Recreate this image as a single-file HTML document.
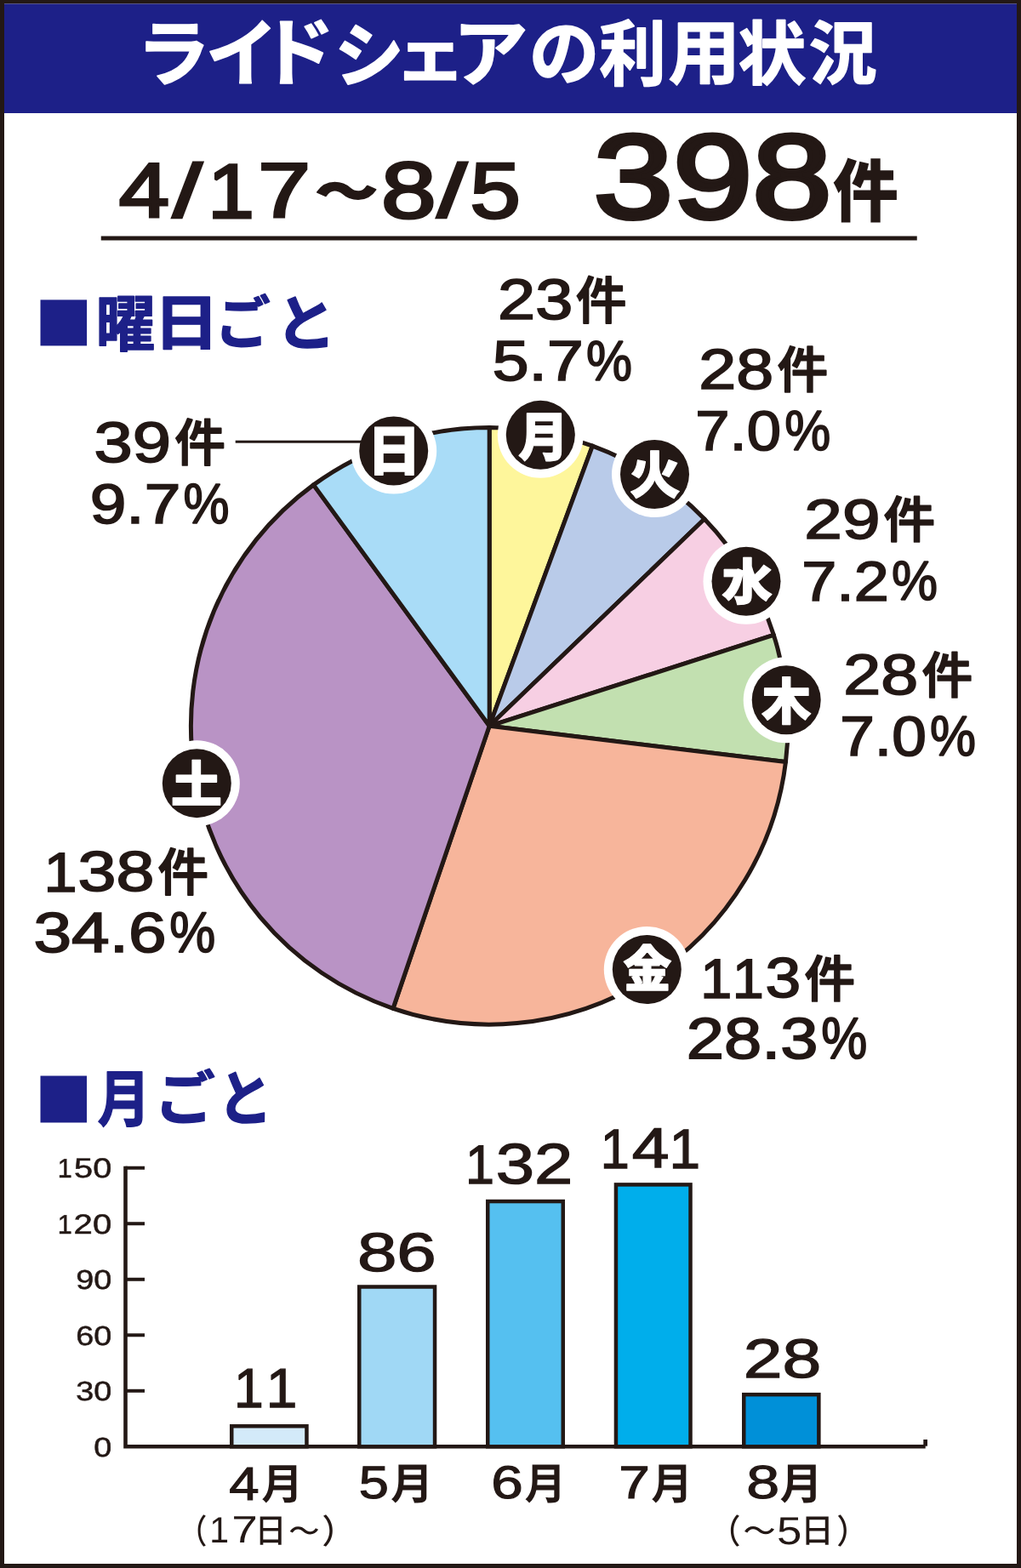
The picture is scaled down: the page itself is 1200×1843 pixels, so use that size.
<!DOCTYPE html>
<html lang="ja"><head><meta charset="utf-8"><title>ライドシェアの利用状況</title>
<style>html,body{margin:0;padding:0;background:#fff}body{width:1200px;height:1843px;overflow:hidden;font-family:"Liberation Sans","Noto Sans CJK JP",sans-serif}svg{display:block}</style>
</head><body>
<svg width="1200" height="1843" viewBox="0 0 1200 1843" font-family="'Liberation Sans', 'Noto Sans CJK JP', sans-serif" style="font-kerning:none;will-change:transform;text-rendering:geometricPrecision"><rect x="0" y="0" width="1200" height="1843" fill="#231815"/>
<rect x="5" y="4.5" width="1190" height="1833.5" fill="#fff"/>
<rect x="5" y="4.5" width="1190" height="128.5" fill="#1d2088"/>
<g aria-label="ライドシェアの利用状況" fill="#fff" stroke="#fff" stroke-linejoin="round" font-weight="bold" font-size="100"><text transform="matrix(0.8622 0 0 0.8533 160.755 94.001)" stroke-width="1.87">ラ</text><text transform="matrix(0.8507 0 0 0.8585 241.776 94.423)" stroke-width="1.87">イ</text><text transform="matrix(0.8817 0 0 0.8711 305.479 92.898)" stroke-width="1.83">ド</text><text transform="matrix(0.8213 0 0 0.8272 392.815 95.064)" stroke-width="1.94">シ</text><text transform="matrix(0.8401 0 0 0.7627 463.534 92.141)" stroke-width="2">ェ</text><text transform="matrix(0.8812 0 0 0.8663 532.542 93.949)" stroke-width="1.83">ア</text><text transform="matrix(0.8268 0 0 0.8466 621.759 93.221)" stroke-width="1.91">の</text><text transform="matrix(0.7872 0 0 0.8406 704.147 94.218)" stroke-width="1.97">利</text><text transform="matrix(0.8441 0 0 0.828 785.558 92.334)" stroke-width="1.91">用</text><text transform="matrix(0.7992 0 0 0.8207 867.562 93.145)" stroke-width="1.98">状</text><text transform="matrix(0.7988 0 0 0.8074 950.733 92.353)" stroke-width="1.99">況</text></g>
<text transform="matrix(1.06524 0 0 0.90929 139.766 254.704)" font-size="100" fill="#231815" stroke="#231815" stroke-width="3.4" stroke-miterlimit="2">4</text><text transform="matrix(1.23785 0 0 0.88498 202.904 255.131)" font-size="100" fill="#231815" stroke="#231815" stroke-width="3.4" stroke-miterlimit="2">/</text><text transform="matrix(1.11034 0 0 0.90929 303.195 254.704)" font-size="100" fill="#231815" stroke="#231815" stroke-width="3.4" stroke-miterlimit="2">7</text>
<text transform="matrix(0.7344 0 0 0.5945 370.43 246.841)" font-size="100" font-weight="900" fill="#231815" stroke="#231815" stroke-width="3.01" stroke-linejoin="round">～</text>
<text transform="matrix(1.16247 0 0 0.9353 447.924 255.897)" font-size="100" fill="#231815" stroke="#231815" stroke-width="3.4" stroke-miterlimit="2">8</text><text transform="matrix(1.25067 0 0 0.88498 513.826 255.131)" font-size="100" fill="#231815" stroke="#231815" stroke-width="3.4" stroke-miterlimit="2">/</text><text transform="matrix(1.06667 0 0 0.92654 552.542 255.92)" font-size="100" fill="#231815" stroke="#231815" stroke-width="3.4" stroke-miterlimit="2">5</text>
<text transform="matrix(1.6764 0 0 1.40079 697.8 256.271)" font-size="100" fill="#231815" stroke="#231815" stroke-width="3.8" stroke-miterlimit="2">398</text>
<text transform="matrix(0.7715 0 0 0.8042 978.851 254.44)" font-size="100" font-weight="900" fill="#231815">件</text>
<rect x="118.75" y="277.5" width="959" height="5" fill="#231815"/>
<text transform="matrix(0.981 0 0 0.905 244.2 255.9)" font-size="100" fill="#231815" stroke="#231815" stroke-width="3.4" stroke-miterlimit="2">1</text>
<rect x="47.5" y="352.4" width="54.6" height="54" fill="#1d2088"/>
<g aria-label="曜日ごと" fill="#1d2088" stroke="#1d2088" stroke-linejoin="round" font-weight="bold" font-size="100"><text transform="matrix(0.6996 0 0 0.7228 112.583 406.539)" stroke-width="1.97">曜</text><text transform="matrix(0.7751 0 0 0.7105 180.264 405.258)" stroke-width="1.88">日</text><text transform="matrix(0.6503 0 0 0.6785 252.811 404.386)" stroke-width="2.11">ご</text><text transform="matrix(0.7147 0 0 0.7155 323.478 406.223)" stroke-width="1.96">と</text></g>
<rect x="47.5" y="1264.5" width="54.5" height="55" fill="#1d2088"/>
<g aria-label="月ごと" fill="#1d2088" stroke="#1d2088" stroke-linejoin="round" font-weight="bold" font-size="100"><text transform="matrix(0.6232 0 0 0.727 114.391 1317.757)" stroke-width="2.07">月</text><text transform="matrix(0.7146 0 0 0.6921 181.481 1315.563)" stroke-width="1.99">ご</text><text transform="matrix(0.6478 0 0 0.7125 255.418 1317.486)" stroke-width="2.06">と</text></g>
<g stroke="#231815" stroke-width="5" stroke-linejoin="round"><path d="M575.2 853.3L575.2 502.5A350.8 350.8 0 0 1 696.331 524.077Z" fill="#fef69b"/><path d="M575.2 853.3L696.331 524.077A350.8 350.8 0 0 1 827.969 610.055Z" fill="#b9cbe9"/><path d="M575.2 853.3L827.969 610.055A350.8 350.8 0 0 1 909.3 746.354Z" fill="#f7cfe3"/><path d="M575.2 853.3L909.3 746.354A350.8 350.8 0 0 1 923.459 895.444Z" fill="#c2e0b0"/><path d="M575.2 853.3L923.459 895.444A350.8 350.8 0 0 1 461.975 1185.325Z" fill="#f7b59b"/><path d="M575.2 853.3L461.975 1185.325A350.8 350.8 0 0 1 368.51 569.857Z" fill="#b993c5"/><path d="M575.2 853.3L368.51 569.857A350.8 350.8 0 0 1 575.2 502.5Z" fill="#a9dcf7"/></g>
<circle cx="462.7" cy="530" r="50.5" fill="#fff"/>
<rect x="276.7" y="517.7" width="150" height="3" fill="#231815"/>
<circle cx="462.7" cy="530" r="40.5" fill="#231815"/>
<text transform="matrix(0.6302 0 0 0.6361 431.714 553.421)" font-size="100" font-weight="900" fill="#fff" stroke="#fff" stroke-width="1.9" stroke-linejoin="round">日</text>
<circle cx="635.3" cy="511.3" r="50.5" fill="#fff"/>
<circle cx="635.3" cy="511.3" r="40.5" fill="#231815"/>
<text transform="matrix(0.5928 0 0 0.6192 608.892 535.518)" font-size="100" font-weight="900" fill="#fff" stroke="#fff" stroke-width="1.98" stroke-linejoin="round">月</text>
<circle cx="769.5" cy="557.5" r="50.5" fill="#fff"/>
<circle cx="769.5" cy="557.5" r="40.5" fill="#231815"/>
<text transform="matrix(0.6011 0 0 0.5968 739.857 579.79)" font-size="100" font-weight="900" fill="#fff" stroke="#fff" stroke-width="2" stroke-linejoin="round">火</text>
<circle cx="877" cy="683.3" r="50.5" fill="#fff"/>
<circle cx="877" cy="683.3" r="40.5" fill="#231815"/>
<text transform="matrix(0.5965 0 0 0.5815 848.205 705.318)" font-size="100" font-weight="900" fill="#fff" stroke="#fff" stroke-width="2.04" stroke-linejoin="round">水</text>
<circle cx="924.2" cy="822.8" r="50.5" fill="#fff"/>
<circle cx="924.2" cy="822.8" r="40.5" fill="#231815"/>
<text transform="matrix(0.5803 0 0 0.5895 895.136 845.8)" font-size="100" font-weight="900" fill="#fff" stroke="#fff" stroke-width="2.05" stroke-linejoin="round">木</text>
<circle cx="760.3" cy="1139.5" r="50.5" fill="#fff"/>
<circle cx="760.3" cy="1139.5" r="40.5" fill="#231815"/>
<text transform="matrix(0.567 0 0 0.5841 732.463 1159.97)" font-size="100" font-weight="900" fill="#fff" stroke="#fff" stroke-width="2.09" stroke-linejoin="round">金</text>
<circle cx="231.3" cy="920.7" r="50.5" fill="#fff"/>
<circle cx="231.3" cy="920.7" r="40.5" fill="#231815"/>
<text transform="matrix(0.6028 0 0 0.5815 200.768 942.96)" font-size="100" font-weight="900" fill="#fff" stroke="#fff" stroke-width="2.03" stroke-linejoin="round">土</text>
<text transform="matrix(0.79305 0 0 0.67029 585.042 375.174)" font-size="100" fill="#231815" stroke="#231815" stroke-width="2.6" stroke-miterlimit="2">23</text>
<text transform="matrix(0.597 0 0 0.6028 676.848 374.836)" font-size="100" font-weight="500" fill="#231815" stroke="#231815" stroke-width="3" stroke-linejoin="round">件</text>
<text transform="matrix(0.76934 0 0 0.66735 578.72 446.781)" font-size="100" fill="#231815" stroke="#231815" stroke-width="2.6" stroke-miterlimit="2">5.7</text>
<text transform="matrix(0.60791 0 0 0.66556 689.023 447.045)" font-size="100" fill="#231815" stroke="#231815" stroke-width="2.6" stroke-miterlimit="2">%</text>
<text transform="matrix(0.81493 0 0 0.67029 110.456 542.674)" font-size="100" fill="#231815" stroke="#231815" stroke-width="2.6" stroke-miterlimit="2">39</text>
<text transform="matrix(0.597 0 0 0.5974 205.148 542.382)" font-size="100" font-weight="500" fill="#231815" stroke="#231815" stroke-width="3.01" stroke-linejoin="round">件</text>
<text transform="matrix(0.76651 0 0 0.65939 105.703 615.199)" font-size="100" fill="#231815" stroke="#231815" stroke-width="2.6" stroke-miterlimit="2">9.7</text>
<text transform="matrix(0.60791 0 0 0.66694 215.623 615.442)" font-size="100" fill="#231815" stroke="#231815" stroke-width="2.6" stroke-miterlimit="2">%</text>
<text transform="matrix(0.78981 0 0 0.66893 821.255 456.777)" font-size="100" fill="#231815" stroke="#231815" stroke-width="2.6" stroke-miterlimit="2">28</text>
<text transform="matrix(0.597 0 0 0.5855 913.548 455.882)" font-size="100" font-weight="500" fill="#231815" stroke="#231815" stroke-width="3.04" stroke-linejoin="round">件</text>
<text transform="matrix(0.72484 0 0 0.65803 817.226 528.502)" font-size="100" fill="#231815" stroke="#231815" stroke-width="2.6" stroke-miterlimit="2">7.0</text>
<text transform="matrix(0.60791 0 0 0.66556 922.323 528.745)" font-size="100" fill="#231815" stroke="#231815" stroke-width="2.6" stroke-miterlimit="2">%</text>
<text transform="matrix(0.80142 0 0 0.65939 945.311 632.699)" font-size="100" fill="#231815" stroke="#231815" stroke-width="2.6" stroke-miterlimit="2">29</text>
<text transform="matrix(0.6056 0 0 0.5844 1038.526 632.491)" font-size="100" font-weight="500" fill="#231815" stroke="#231815" stroke-width="3.03" stroke-linejoin="round">件</text>
<text transform="matrix(0.73712 0 0 0.65586 942.179 705.847)" font-size="100" fill="#231815" stroke="#231815" stroke-width="2.6" stroke-miterlimit="2">7.2</text>
<text transform="matrix(0.60791 0 0 0.65453 1048.123 705.466)" font-size="100" fill="#231815" stroke="#231815" stroke-width="2.6" stroke-miterlimit="2">%</text>
<text transform="matrix(0.78981 0 0 0.67029 991.255 815.974)" font-size="100" fill="#231815" stroke="#231815" stroke-width="2.6" stroke-miterlimit="2">28</text>
<text transform="matrix(0.597 0 0 0.5844 1083.548 814.991)" font-size="100" font-weight="500" fill="#231815" stroke="#231815" stroke-width="3.05" stroke-linejoin="round">件</text>
<text transform="matrix(0.73088 0 0 0.65939 987.203 887.699)" font-size="100" fill="#231815" stroke="#231815" stroke-width="2.6" stroke-miterlimit="2">7.0</text>
<text transform="matrix(0.60791 0 0 0.66694 1093.123 887.942)" font-size="100" fill="#231815" stroke="#231815" stroke-width="2.6" stroke-miterlimit="2">%</text>
<text transform="matrix(0.665 0 0 0.655 823.35 1172.5)" font-size="100" fill="#231815" stroke="#231815" stroke-width="2.6" stroke-miterlimit="2">1</text>
<text transform="matrix(0.665 0 0 0.655 860.85 1172.5)" font-size="100" fill="#231815" stroke="#231815" stroke-width="2.6" stroke-miterlimit="2">1</text>
<text transform="matrix(0.74982 0 0 0.66621 899.619 1171.983)" font-size="100" fill="#231815" stroke="#231815" stroke-width="2.6" stroke-miterlimit="2">3</text>
<text transform="matrix(0.5943 0 0 0.5887 945.605 1171.855)" font-size="100" font-weight="500" fill="#231815" stroke="#231815" stroke-width="3.04" stroke-linejoin="round">件</text>
<text transform="matrix(0.79497 0 0 0.68119 806.835 1243.849)" font-size="100" fill="#231815" stroke="#231815" stroke-width="2.6" stroke-miterlimit="2">28.3</text>
<text transform="matrix(0.60791 0 0 0.68898 965.323 1244.101)" font-size="100" fill="#231815" stroke="#231815" stroke-width="2.6" stroke-miterlimit="2">%</text>
<text transform="matrix(0.703 0 0 0.655 51.54 1047.5)" font-size="100" fill="#231815" stroke="#231815" stroke-width="2.6" stroke-miterlimit="2">1</text>
<text transform="matrix(0.80908 0 0 0.66621 91.47 1046.983)" font-size="100" fill="#231815" stroke="#231815" stroke-width="2.6" stroke-miterlimit="2">38</text>
<text transform="matrix(0.5943 0 0 0.6006 185.605 1046.755)" font-size="100" font-weight="500" fill="#231815" stroke="#231815" stroke-width="3.01" stroke-linejoin="round">件</text>
<text transform="matrix(0.80148 0 0 0.66621 39.489 1118.883)" font-size="100" fill="#231815" stroke="#231815" stroke-width="2.6" stroke-miterlimit="2">34.6</text>
<text transform="matrix(0.60791 0 0 0.67383 199.223 1119.129)" font-size="100" fill="#231815" stroke="#231815" stroke-width="2.6" stroke-miterlimit="2">%</text>
<path d="M147.5 1370.745V1700.3H1087.7" fill="none" stroke="#231815" stroke-width="4.6" stroke-linejoin="miter"/>
<rect x="1085.3" y="1692" width="4.7" height="7.7" fill="#231815"/>
<rect x="147.5" y="1632.789" width="22.5" height="4" fill="#231815"/>
<rect x="147.5" y="1567.278" width="22.5" height="4" fill="#231815"/>
<rect x="147.5" y="1501.767" width="22.5" height="4" fill="#231815"/>
<rect x="147.5" y="1436.256" width="22.5" height="4" fill="#231815"/>
<rect x="147.5" y="1370.745" width="22.5" height="4" fill="#231815"/>
<text transform="matrix(0.3776 0 0 0.32 110.173 1711.8)" font-size="100" fill="#231815" stroke="#231815" stroke-width="1.6" stroke-miterlimit="2">0</text>
<text transform="matrix(0.3776 0 0 0.32 89.172 1646.289)" font-size="100" fill="#231815" stroke="#231815" stroke-width="1.6" stroke-miterlimit="2">30</text>
<text transform="matrix(0.3776 0 0 0.32 89.172 1580.778)" font-size="100" fill="#231815" stroke="#231815" stroke-width="1.6" stroke-miterlimit="2">60</text>
<text transform="matrix(0.3776 0 0 0.32 89.172 1515.267)" font-size="100" fill="#231815" stroke="#231815" stroke-width="1.6" stroke-miterlimit="2">90</text>
<text transform="matrix(0.306 0 0 0.317 67.76 1449.756)" font-size="100" fill="#231815" stroke="#231815" stroke-width="1.6" stroke-miterlimit="2">1</text>
<text transform="matrix(0.40137 0 0 0.32458 86.602 1449.579)" font-size="100" fill="#231815" stroke="#231815" stroke-width="1.6" stroke-miterlimit="2">20</text>
<text transform="matrix(0.306 0 0 0.317 67.76 1384.245)" font-size="100" fill="#231815" stroke="#231815" stroke-width="1.6" stroke-miterlimit="2">1</text>
<text transform="matrix(0.39744 0 0 0.32458 87.027 1384.068)" font-size="100" fill="#231815" stroke="#231815" stroke-width="1.6" stroke-miterlimit="2">50</text>
<rect x="272.25" y="1676.279" width="88.2" height="24.021" fill="#d3eaf9" stroke="#231815" stroke-width="4.5"/>
<rect x="422.25" y="1512.502" width="88.8" height="187.798" fill="#a0d8f5" stroke="#231815" stroke-width="4.5"/>
<rect x="573.25" y="1412.052" width="88.5" height="288.248" fill="#55c0f0" stroke="#231815" stroke-width="4.5"/>
<rect x="723.95" y="1392.398" width="87.55" height="307.902" fill="#00aeeb" stroke="#231815" stroke-width="4.5"/>
<rect x="874.25" y="1639.156" width="88.1" height="61.144" fill="#0090d8" stroke="#231815" stroke-width="4.5"/>
<text transform="matrix(0.624 0 0 0.652 274.9 1654.2)" font-size="100" fill="#231815" stroke="#231815" stroke-width="2" stroke-miterlimit="2">1</text>
<text transform="matrix(0.658 0 0 0.652 312.83 1654.2)" font-size="100" fill="#231815" stroke="#231815" stroke-width="2" stroke-miterlimit="2">1</text>
<text transform="matrix(0.83548 0 0 0.64148 419.905 1493.732)" font-size="100" fill="#231815" stroke="#231815" stroke-width="2" stroke-miterlimit="2">86</text>
<text transform="matrix(0.611 0 0 0.646 547.09 1391.25)" font-size="100" fill="#231815" stroke="#231815" stroke-width="2" stroke-miterlimit="2">1</text>
<text transform="matrix(0.81423 0 0 0.66964 582.713 1391.176)" font-size="100" fill="#231815" stroke="#231815" stroke-width="2" stroke-miterlimit="2">32</text>
<text transform="matrix(0.611 0 0 0.656 705.84 1372.5)" font-size="100" fill="#231815" stroke="#231815" stroke-width="2" stroke-miterlimit="2">1</text>
<text transform="matrix(0.78735 0 0 0.66385 742.73 1371.836)" font-size="100" fill="#231815" stroke="#231815" stroke-width="2" stroke-miterlimit="2">4</text>
<text transform="matrix(0.658 0 0 0.656 786.58 1372.5)" font-size="100" fill="#231815" stroke="#231815" stroke-width="2" stroke-miterlimit="2">1</text>
<text transform="matrix(0.82326 0 0 0.6456 873.683 1618.724)" font-size="100" fill="#231815" stroke="#231815" stroke-width="2" stroke-miterlimit="2">28</text>
<text transform="matrix(0.63561 0 0 0.55227 269.177 1762.748)" font-size="100" fill="#231815" stroke="#231815" stroke-width="2" stroke-miterlimit="2">4</text>
<text transform="matrix(0.4878 0 0 0.4955 307.276 1762.24)" font-size="100" font-weight="bold" fill="#231815">月</text>
<text transform="matrix(0.63244 0 0 0.53988 421.85 1761.433)" font-size="100" fill="#231815" stroke="#231815" stroke-width="2" stroke-miterlimit="2">5</text>
<text transform="matrix(0.503 0 0 0.5045 458.944 1761.71)" font-size="100" font-weight="bold" fill="#231815">月</text>
<text transform="matrix(0.67508 0 0 0.54258 577.247 1761.428)" font-size="100" fill="#231815" stroke="#231815" stroke-width="2" stroke-miterlimit="2">6</text>
<text transform="matrix(0.4878 0 0 0.5045 616.476 1761.71)" font-size="100" font-weight="bold" fill="#231815">月</text>
<text transform="matrix(0.65846 0 0 0.54026 727.283 1761.46)" font-size="100" fill="#231815" stroke="#231815" stroke-width="2" stroke-miterlimit="2">7</text>
<text transform="matrix(0.4878 0 0 0.5045 765.226 1761.71)" font-size="100" font-weight="bold" fill="#231815">月</text>
<text transform="matrix(0.70007 0 0 0.54944 877.158 1761.414)" font-size="100" fill="#231815" stroke="#231815" stroke-width="2" stroke-miterlimit="2">8</text>
<text transform="matrix(0.503 0 0 0.5045 916.444 1761.71)" font-size="100" font-weight="bold" fill="#231815">月</text>
<text transform="matrix(0.3358 0 0 0.3923 209.634 1813.656)" font-size="100" font-weight="500" fill="#231815">（</text>
<text transform="matrix(0.41 0 0 0.43 246.33 1813.3)" font-size="100" fill="#231815">1</text>
<text transform="matrix(0.54995 0 0 0.44768 272.18 1813.3)" font-size="100" fill="#231815">7</text>
<text transform="matrix(0.3709 0 0 0.3904 299.606 1812.95)" font-size="100" font-weight="500" fill="#231815">日</text>
<text transform="matrix(0.363 0 0 0.3182 339.348 1810.841)" font-size="100" font-weight="500" fill="#231815">～</text>
<text transform="matrix(0.3942 0 0 0.3923 378.226 1813.656)" font-size="100" font-weight="500" fill="#231815">）</text>
<text transform="matrix(0.365 0 0 0.3923 833.896 1813.656)" font-size="100" font-weight="500" fill="#231815">（</text>
<text transform="matrix(0.3804 0 0 0.3234 873.478 1811.415)" font-size="100" font-weight="500" fill="#231815">～</text>
<text transform="matrix(0.52729 0 0 0.45861 912.889 1814.552)" font-size="100" fill="#231815">5</text>
<text transform="matrix(0.3895 0 0 0.3898 940.996 1813.404)" font-size="100" font-weight="500" fill="#231815">日</text>
<text transform="matrix(0.365 0 0 0.3923 983.358 1813.656)" font-size="100" font-weight="500" fill="#231815">）</text></svg>
</body></html>
